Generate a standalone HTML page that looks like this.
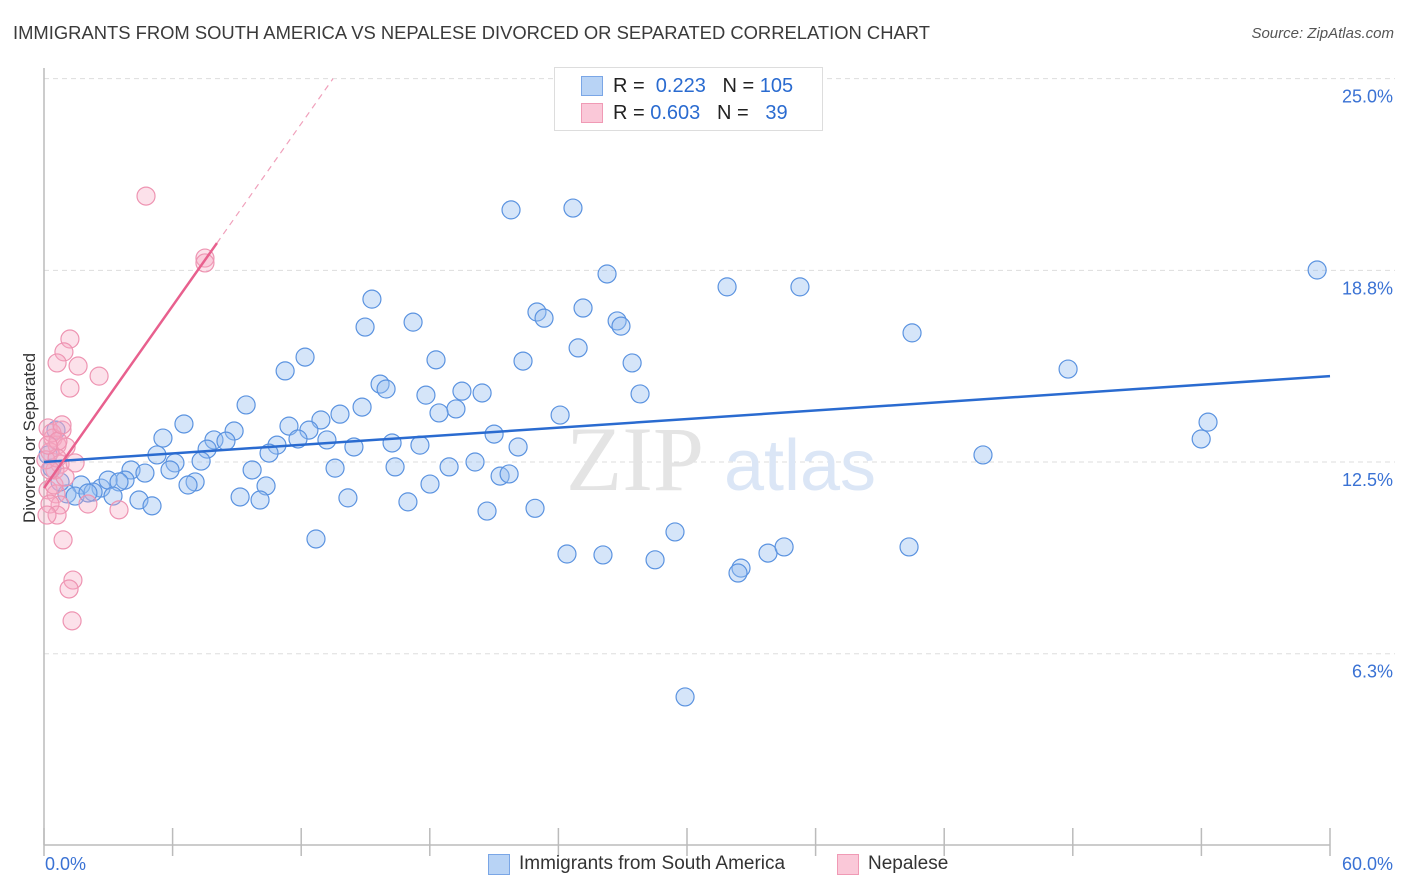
<!DOCTYPE html>
<html><head><meta charset="utf-8">
<style>
body{margin:0;background:#fff;font-family:"Liberation Sans",sans-serif;}
#wrap{position:relative;width:1406px;height:892px;overflow:hidden;}
.t{position:absolute;white-space:nowrap;}
</style></head>
<body>
<div id="wrap">
<div class="t" style="left:13px;top:22px;font-size:18.4px;color:#3a3a3a;">IMMIGRANTS FROM SOUTH AMERICA VS NEPALESE DIVORCED OR SEPARATED CORRELATION CHART</div>
<div class="t" style="right:12px;top:25px;font-size:15px;color:#555;font-style:italic;">Source: ZipAtlas.com</div>
<div class="t" style="left:-40px;top:443px;font-size:17px;color:#333;transform:rotate(-90deg);width:140px;text-align:center;">Divorced or Separated</div>
<svg id="plot" width="1406" height="892" style="position:absolute;left:0;top:0"></svg>
<div style="position:absolute;left:554px;top:67px;width:267px;height:62px;border:1px solid #ddd;background:#fff;">
 <div style="position:absolute;left:26px;top:8px;width:20px;height:18px;background:#b8d3f5;border:1px solid #7aa6e6;"></div>
 <div style="position:absolute;left:26px;top:35px;width:20px;height:18px;background:#fac8d8;border:1px solid #f09ab5;"></div>
 <div class="t" style="left:58px;top:7px;font-size:20px;color:#222;">R = <span style="color:#2a6bd0">&nbsp;0.223</span>&nbsp;&nbsp;&nbsp;N = <span style="color:#2a6bd0">105</span></div>
 <div class="t" style="left:58px;top:34px;font-size:20px;color:#222;">R = <span style="color:#2a6bd0">0.603</span>&nbsp;&nbsp;&nbsp;N = <span style="color:#2a6bd0">&nbsp;&nbsp;39</span></div>
</div>
<div>
 <div style="position:absolute;left:488px;top:854px;width:20px;height:19px;background:#b8d3f5;border:1px solid #7aa6e6;"></div>
 <div class="t" style="left:519px;top:853px;font-size:19px;color:#333;">Immigrants from South America</div>
 <div style="position:absolute;left:837px;top:854px;width:20px;height:19px;background:#fac8d8;border:1px solid #f09ab5;"></div>
 <div class="t" style="left:868px;top:853px;font-size:19px;color:#333;">Nepalese</div>
</div>
</div>
<script>
const blueX=[21.79,24.68,59.40,26.27,31.87,35.27,15.30,23.00,25.15,17.22,23.33,26.74,14.98,26.92,40.50,24.92,12.18,18.29,22.35,27.44,47.78,11.25,15.68,15.96,19.50,17.82,20.44,27.81,9.43,14.84,19.22,18.43,24.08,13.81,6.53,54.31,11.43,12.92,8.87,12.36,5.55,7.93,21.00,53.99,8.49,10.87,11.85,13.20,16.24,17.54,7.61,10.50,14.46,22.12,43.81,5.27,6.11,7.33,13.58,16.38,18.90,20.11,4.06,4.71,9.71,5.88,21.28,21.70,7.05,6.72,3.78,18.01,1.73,2.66,10.36,2.99,3.50,2.29,1.07,1.45,3.22,4.43,9.15,10.08,14.18,16.98,5.04,20.67,22.91,29.44,12.69,24.40,26.08,28.51,33.78,34.53,40.36,32.52,32.38,29.91,0.19,0.56,2.05,0.75,0.37];
const blueY=[20.72,20.78,18.76,18.63,18.21,18.21,17.81,17.39,17.52,17.06,17.19,17.10,16.90,16.93,16.71,16.22,15.92,15.83,15.79,15.73,15.53,15.47,15.04,14.88,14.81,14.68,14.75,14.72,14.36,14.29,14.23,14.10,14.03,14.06,13.74,13.80,13.67,13.87,13.51,13.54,13.28,13.22,13.41,13.25,13.18,13.05,13.25,13.22,13.12,13.05,12.92,12.79,12.99,12.99,12.73,12.73,12.47,12.53,12.30,12.34,12.34,12.50,12.24,12.14,12.24,12.24,12.04,12.11,11.85,11.75,11.91,11.78,11.75,11.65,11.72,11.91,11.85,11.52,11.46,11.39,11.39,11.26,11.36,11.26,11.33,11.20,11.07,10.90,10.99,10.22,9.99,9.50,9.47,9.31,9.53,9.73,9.73,9.04,8.88,4.84,12.73,13.54,11.49,11.85,12.30];
const pinkX=[4.76,7.51,7.51,1.21,0.93,0.61,1.59,2.57,1.21,0.19,0.84,0.42,0.61,1.03,0.28,0.75,1.45,0.51,0.19,0.56,0.75,0.28,2.05,3.50,0.61,0.14,0.89,1.35,1.17,1.31,0.37,0.65,0.09,0.47,0.98,0.61,0.19,0.84,0.28];
const pinkY=[21.17,19.15,18.99,16.51,16.09,15.73,15.63,15.30,14.91,13.61,13.54,13.28,13.05,12.99,12.83,12.43,12.47,12.24,11.59,11.46,11.10,11.13,11.13,10.94,10.77,10.77,9.96,8.65,8.36,7.32,13.45,13.18,12.57,11.75,12.01,12.63,13.05,13.71,12.24];
const yTicks=[25,18.75,12.5,6.25];
const yTickLabels=["25.0%","18.8%","12.5%","6.3%"];
const xTicks=[0,6,12,18,24,30,36,42,48,54,60];
const blueTrend=[12.5,15.30];
const pinkTrend=[11.65,0.99];
const pinkSolidEnd=8.07;

const X0=44,X1=1330,YB=462;
const xs=v=>X0+(v/60)*(X1-X0);
const ys=v=>YB-(v-12.5)*30.67;
const svg=document.getElementById('plot');
const NS='http://www.w3.org/2000/svg';
function mk(tag,attrs){const e=document.createElementNS(NS,tag);for(const k in attrs)e.setAttribute(k,attrs[k]);svg.appendChild(e);return e;}

yTicks.forEach((t,i)=>{
 const g=mk('line',{x1:44,x2:1395,y1:ys(t),y2:ys(t),stroke:'#ddd','stroke-dasharray':'5,4','stroke-width':1});
 
 
 const l=mk('text',{x:1393,y:ys(t)+24,'text-anchor':'end','font-size':18,fill:'#3a72d4','font-family':'Liberation Sans, sans-serif'});
 l.textContent=yTickLabels[i];
 
 
});
const ax=mk('line',{x1:44,x2:44,y1:68,y2:845,stroke:'#bbb','stroke-width':1.5});


const bx=mk('line',{x1:44,x2:1330,y1:845,y2:845,stroke:'#bbb','stroke-width':1.5});


xTicks.forEach(t=>{
 const k=mk('line',{x1:xs(t),x2:xs(t),y1:828,y2:856,stroke:'#bbb','stroke-width':1.5});
 
 
});
[['0.0%',45,'start'],['60.0%',1393,'end']].forEach(a=>{
 const l=mk('text',{x:a[1],y:870,'text-anchor':a[2],'font-size':18,fill:'#3a72d4','font-family':'Liberation Sans, sans-serif'});
 l.textContent=a[0];
 
 
});
const w1=mk('text',{x:635,y:490,'text-anchor':'middle','font-size':92,fill:'#e4e4e4','font-family':'Liberation Serif, serif'});
w1.textContent='ZIP';


const w2=mk('text',{x:800,y:490,'text-anchor':'middle','font-size':72,fill:'#dbe6f6','font-family':'Liberation Sans, sans-serif'});
w2.textContent='atlas';



blueX.forEach((x,i)=>{
 const c=mk('circle',{cx:xs(x),cy:ys(blueY[i]),r:9,fill:'rgba(150,190,240,0.4)',stroke:'#5b93e0','stroke-width':1.2});
 
 
});
pinkX.forEach((x,i)=>{
 const c=mk('circle',{cx:xs(x),cy:ys(pinkY[i]),r:9,fill:'rgba(245,170,195,0.35)',stroke:'#ee94b2','stroke-width':1.2});
 
 
});
const bt=mk('line',{x1:xs(0),y1:ys(blueTrend[0]),x2:xs(60),y2:ys(blueTrend[1]),stroke:'#2a6bd0','stroke-width':2.5});


const pEndDash=(25-pinkTrend[0])/pinkTrend[1];
const pd=mk('line',{x1:xs(pinkSolidEnd),y1:ys(pinkTrend[0]+pinkTrend[1]*pinkSolidEnd),x2:xs(pEndDash),y2:ys(25),stroke:'#f0a0bb','stroke-width':1.2,'stroke-dasharray':'6,5'});


const pt=mk('line',{x1:xs(0),y1:ys(pinkTrend[0]),x2:xs(pinkSolidEnd),y2:ys(pinkTrend[0]+pinkTrend[1]*pinkSolidEnd),stroke:'#e8608e','stroke-width':2.5});


</script>
</body></html>
